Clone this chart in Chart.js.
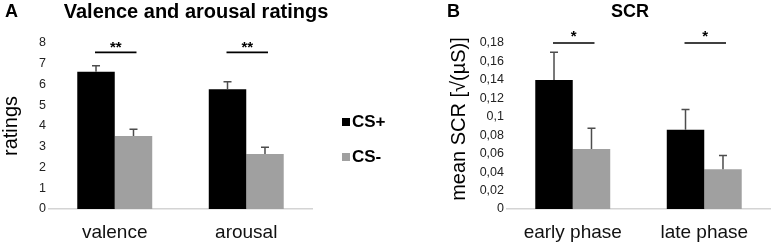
<!DOCTYPE html>
<html>
<head>
<meta charset="utf-8">
<script src="https://cdn.jsdelivr.net/npm/chart.js@4/dist/chart.umd.min.js"></script>
<style>
html,body{margin:0;padding:0;background:#fff;}
#wrap{position:relative;width:776px;height:244px;overflow:hidden;background:#fff;}
#cA{position:absolute;left:0;top:0;}
#cB{position:absolute;left:400px;top:0;}
</style>
</head>
<body>
<div id="wrap">
<canvas id="cA" width="400" height="244"></canvas>
<canvas id="cB" width="376" height="244"></canvas>
</div>
<script>
// ---- data ----
const seriesLabels = ['CS+', 'CS-'];
const ratingCategories = ['valence', 'arousal'];
const ratingCSplus = [6.62, 5.77];
const ratingCSminus = [3.52, 2.65];
const ratingErrPlus = [0.28, 0.36];
const ratingErrMinus = [0.32, 0.32];
const ratingTicks = ['0', '1', '2', '3', '4', '5', '6', '7', '8'];
const ratingSig = ['**', '**'];

const scrCategories = ['early phase', 'late phase'];
const scrCSplus = [0.140, 0.086];
const scrCSminus = [0.065, 0.043];
const scrErrPlus = [0.030, 0.022];
const scrErrMinus = [0.0225, 0.015];
const scrTicks = ['0', '0,02', '0,04', '0,06', '0,08', '0,1', '0,12', '0,14', '0,16', '0,18'];
const scrSig = ['*', '*'];

const FONT = "'Liberation Sans', Arial, sans-serif";
const BLACK = '#000000';
const GRAY = '#a0a0a0';

function makeChart(canvasId, cfg) {
  const errPlugin = {
    id: 'extras',
    afterDatasetsDraw(chart) {
      const ctx = chart.ctx;
      const ys = chart.scales.y;
      // error bars (upper only)
      chart.data.datasets.forEach((ds, di) => {
        const meta = chart.getDatasetMeta(di);
        meta.data.forEach((bar, i) => {
          const v = ds.data[i];
          const e = cfg.errors[di][i];
          const yTop = ys.getPixelForValue(v + e);
          const yBar = ys.getPixelForValue(v);
          ctx.save();
          ctx.strokeStyle = '#4d4d4d';
          ctx.lineWidth = 1.5;
          ctx.beginPath();
          ctx.moveTo(bar.x, yBar);
          ctx.lineTo(bar.x, yTop);
          ctx.moveTo(bar.x - 4, yTop);
          ctx.lineTo(bar.x + 4, yTop);
          ctx.stroke();
          ctx.restore();
        });
      });
      // significance brackets
      const m0 = chart.getDatasetMeta(0), m1 = chart.getDatasetMeta(1);
      cfg.sig.forEach((s, i) => {
        const x0 = m0.data[i].x, x1 = m1.data[i].x;
        const y = ys.getPixelForValue(cfg.sigLevel);
        ctx.save();
        ctx.strokeStyle = '#000';
        ctx.lineWidth = 1.6;
        ctx.beginPath();
        ctx.moveTo(x0 - 1, y);
        ctx.lineTo(x1 + 3, y);
        ctx.stroke();
        ctx.fillStyle = '#000';
        ctx.font = 'bold 15px ' + FONT;
        ctx.textAlign = 'center';
        ctx.textBaseline = 'alphabetic';
        ctx.fillText(s, (x0 + x1) / 2 + 1, y - 2 + cfg.starDy);
        ctx.restore();
      });
    },
    afterDraw(chart) {
      const ctx = chart.ctx;
      ctx.save();
      ctx.fillStyle = '#000';
      ctx.textBaseline = 'middle';
      // panel letter
      ctx.font = 'bold 18px ' + FONT;
      ctx.textAlign = 'left';
      ctx.fillText(cfg.letter, cfg.letterX, 12);
      // title
      ctx.font = 'bold ' + cfg.titleSize + 'px ' + FONT;
      ctx.textAlign = 'center';
      ctx.fillText(cfg.title, cfg.titleX, 12);
      // y title
      ctx.save();
      ctx.translate(cfg.yTitleX, cfg.yTitleY);
      ctx.rotate(-Math.PI / 2);
      ctx.font = '20px ' + FONT;
      ctx.textAlign = 'center';
      ctx.fillText(cfg.yTitle, 0, 0);
      ctx.restore();
      // legend
      if (cfg.legend) {
        chart.data.datasets.forEach((ds, di) => {
          const ly = cfg.legend.y[di];
          ctx.fillStyle = ds.backgroundColor;
          ctx.fillRect(cfg.legend.x, ly - 4, 8, 8);
          ctx.fillStyle = '#000';
          ctx.font = 'bold 17px ' + FONT;
          ctx.textAlign = 'left';
          ctx.fillText(ds.label, cfg.legend.x + 10, ly);
        });
      }
      ctx.restore();
    }
  };

  return new Chart(document.getElementById(canvasId), {
    type: 'bar',
    data: {
      labels: cfg.labels,
      datasets: [
        { label: seriesLabels[0], data: cfg.plus, backgroundColor: BLACK, categoryPercentage: 0.57, barPercentage: 1.0 },
        { label: seriesLabels[1], data: cfg.minus, backgroundColor: GRAY, categoryPercentage: 0.57, barPercentage: 1.0 }
      ]
    },
    options: {
      responsive: false,
      animation: false,
      layout: { padding: { left: 0, right: cfg.padRight, top: 43, bottom: 0 } },
      plugins: { legend: { display: false }, tooltip: { enabled: false } },
      scales: {
        x: {
          grid: { display: false, drawTicks: false },
          border: { display: true, color: '#d4d4d4', width: 1.5 },
          ticks: { color: '#111', font: { family: FONT, size: 19 }, padding: 12, maxRotation: 0 },
          afterFit(s) { s.height = 35; }
        },
        y: {
          min: 0,
          max: cfg.max,
          grid: { display: false, drawTicks: false },
          border: { display: false },
          ticks: {
            stepSize: cfg.step,
            color: '#222',
            font: { family: FONT, size: 12.5 },
            padding: 3,
            callback: (v, i) => cfg.tickLabels[i]
          },
          afterFit(s) { s.width = cfg.yWidth; }
        }
      }
    },
    plugins: [errPlugin]
  });
}

makeChart('cA', {
  labels: ratingCategories,
  plus: ratingCSplus,
  minus: ratingCSminus,
  errors: [ratingErrPlus, ratingErrMinus],
  sig: ratingSig,
  sigLevel: 7.55,
  starDy: 2,
  max: 8, step: 1,
  tickLabels: ratingTicks,
  yWidth: 49, padRight: 88,
  letter: 'A', letterX: 5,
  title: 'Valence and arousal ratings', titleX: 196, titleSize: 20,
  yTitle: 'ratings', yTitleX: 11, yTitleY: 126,
  legend: { x: 342, y: [122, 157] }
});

makeChart('cB', {
  labels: scrCategories,
  plus: scrCSplus,
  minus: scrCSminus,
  errors: [scrErrPlus, scrErrMinus],
  sig: scrSig,
  sigLevel: 0.18,
  starDy: 0,
  max: 0.18, step: 0.02,
  tickLabels: scrTicks,
  yWidth: 107, padRight: 6,
  letter: 'B', letterX: 47,
  title: 'SCR', titleX: 230, titleSize: 18,
  yTitle: 'mean SCR [\u221A(\u00B5S)]', yTitleX: 59, yTitleY: 119,
  legend: null
});
</script>
</body>
</html>
